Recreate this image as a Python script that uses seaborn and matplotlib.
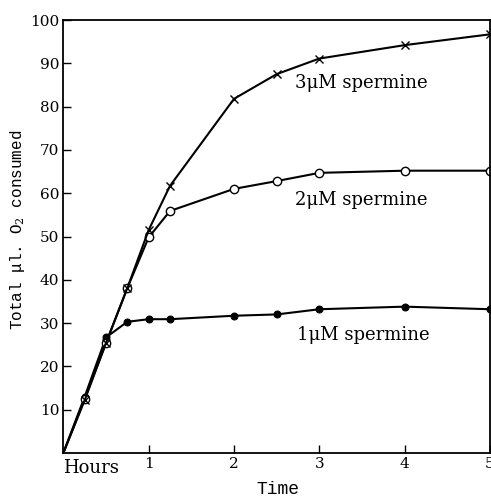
import matplotlib
matplotlib.use("Agg")
import matplotlib.pyplot as plt
import seaborn as sns
import pandas as pd

sns.set_theme(style="ticks")
plt.rcParams['font.family'] = ['DejaVu Serif']
plt.rcParams['mathtext.fontset'] = 'dejavuserif'
plt.rcParams['text.color'] = 'black'
plt.rcParams['axes.labelcolor'] = 'black'
plt.rcParams['xtick.color'] = 'black'
plt.rcParams['ytick.color'] = 'black'

hours = [0, 0.25, 0.5, 0.75, 1.0, 1.25, 2.0, 2.5, 3.0, 4.0, 5.0]
sp1 = [0, 13.0, 26.7, 30.3, 30.9, 30.9, 31.7, 32.0, 33.2, 33.8, 33.2]
sp2 = [0, 12.5, 25.4, 38.1, 49.8, 55.9, 61.0, 62.8, 64.7, 65.2, 65.2]
sp3 = [0, 12.2, 25.4, 38.1, 51.5, 61.7, 81.8, 87.5, 91.1, 94.2, 96.7]
labels = ["1μM spermine", "2μM spermine", "3μM spermine"]
label_pos = [(2.74, 27.2), (2.72, 58.4), (2.72, 85.4)]
yticks = [10, 20, 30, 40, 50, 60, 70, 80, 90, 100]
xticks = [1, 2, 3, 4, 5]

fig = plt.figure(figsize=(4.91, 4.98), dpi=100)
ax = fig.add_axes([0.129, 0.0904, 0.869, 0.8694])

styles = [
    dict(marker='o', markersize=5, markerfacecolor='black', markeredgecolor='black'),
    dict(marker='o', markersize=6, markerfacecolor='white', markeredgecolor='black', markeredgewidth=1.0),
    dict(marker='x', markersize=6, markeredgecolor='black', markeredgewidth=1.0),
]
for vals, st in zip([sp1, sp2, sp3], styles):
    df = pd.DataFrame({"h": hours, "v": vals})
    sns.lineplot(data=df, x="h", y="v", ax=ax, color='black', linewidth=1.5,
                 markevery=list(range(1, len(hours))), **st)

for lab, (x, y) in zip(labels, label_pos):
    ax.text(x, y, lab, fontsize=13, ha='left', va='center', color='black')

ax.set_xlim(0, 5)
ax.set_ylim(0, 100)
ax.set_xticks(xticks)
ax.set_xticklabels([str(t) for t in xticks], fontsize=11)
ax.set_yticks(yticks)
ax.set_yticklabels([str(t) for t in yticks], fontsize=11)
ax.tick_params(direction='in', length=6, width=1, colors='black', pad=3)
ax.text(0.0, -0.015, "Hours", transform=ax.transAxes, ha='left', va='top', fontsize=13)
ax.set_xlabel("Time", fontsize=13, family=['Liberation Mono', 'DejaVu Sans Mono'])
ax.xaxis.set_label_coords((278 - 63.5) / 426.5, -(490 - 453) / 433.0)
ax.xaxis.label.set_va('center')
ax.set_ylabel("Total μl. O$_2$ consumed", fontsize=11.5, family=['Liberation Mono', 'DejaVu Sans Mono'])
ax.yaxis.set_label_coords(-(63.5 - 18) / 426.5, (453 - 230) / 433.0)
ax.yaxis.label.set_va('center')
for s in ax.spines.values():
    s.set_linewidth(1.3)
    s.set_color('black')

fig.savefig("out.png", dpi=100)
